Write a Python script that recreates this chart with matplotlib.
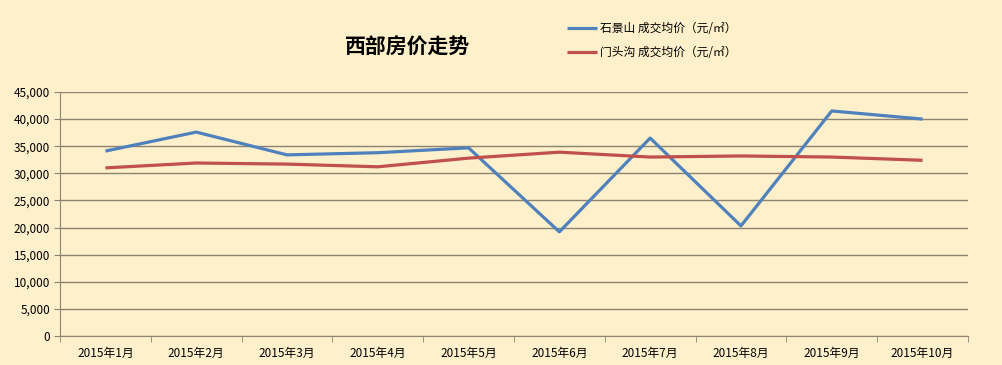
import matplotlib
matplotlib.use("Agg")
import matplotlib.pyplot as plt
import numpy as np

plt.rcParams['font.family'] = ['Noto Sans CJK SC', 'DejaVu Sans']

months = ['2015年1月', '2015年2月', '2015年3月', '2015年4月', '2015年5月',
          '2015年6月', '2015年7月', '2015年8月', '2015年9月', '2015年10月']
shijingshan = [34100, 37600, 33400, 33800, 34700, 19200, 36500, 20300, 41500, 40000]
mentougou = [31000, 31900, 31700, 31200, 32800, 33900, 33000, 33200, 33000, 32400]

bg = '#FEF0CA'
fig = plt.figure(figsize=(10.02, 3.65), dpi=100, facecolor=bg)
ax = fig.add_axes([0.0599, 0.0795, 0.9061, 0.6685], facecolor=bg)

x = np.arange(len(months))
ax.plot(x, shijingshan, color='#4F81BD', lw=2.3, label='石景山 成交均价（元/㎡）', solid_capstyle='butt')
ax.plot(x, mentougou, color='#C0504D', lw=2.3, label='门头沟 成交均价（元/㎡）', solid_capstyle='butt')

ax.set_xlim(-0.5, len(months) - 0.5)
ax.set_ylim(0, 45000)
ax.set_yticks(np.arange(0, 45001, 5000))
ax.set_yticklabels(['{:,}'.format(v) for v in range(0, 45001, 5000)], fontsize=8.5)
ax.set_xticks(x)
ax.set_xticklabels(months, fontsize=8.5)
ax.set_xticks(np.arange(-0.5, len(months)), minor=True)
ax.tick_params(axis='x', which='major', length=0, pad=8)
ax.tick_params(axis='x', which='minor', length=4, color='#8C8472')
ax.tick_params(axis='y', length=4, color='#8C8472', pad=3)
ax.grid(axis='y', color='#8C8472', lw=1)
ax.set_axisbelow(True)
for s in ['top', 'right']:
    ax.spines[s].set_visible(False)
ax.spines['left'].set_color('#8C8472')
ax.spines['bottom'].set_color('#8C8472')

fig.text(0.407, 0.87, '西部房价走势', ha='center', va='center', fontsize=15, fontweight='bold')
fig.legend(loc='upper left', bbox_to_anchor=(0.555, 0.968), frameon=False, fontsize=8.5,
           handlelength=2.6, handletextpad=0.2, labelspacing=0.9)

fig.savefig('out.png', dpi=100, facecolor=bg)
